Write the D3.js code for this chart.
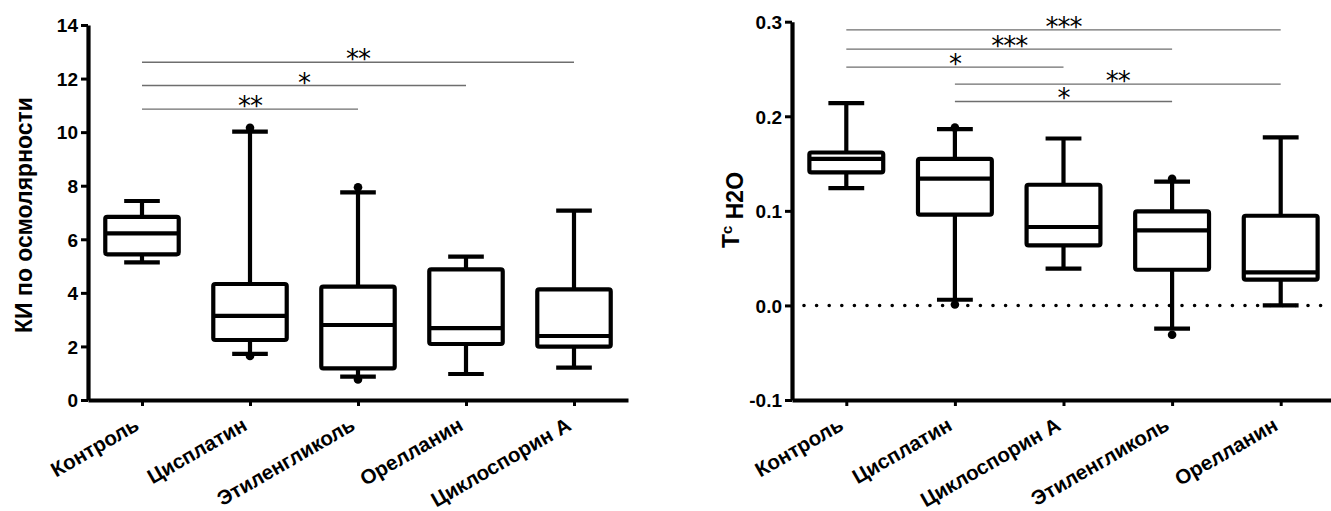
<!DOCTYPE html>
<html>
<head>
<meta charset="utf-8">
<script src="https://cdn.jsdelivr.net/npm/d3@7"></script>
<style>
  body { margin: 0; background: #fff; }
  svg { display: block; }
  text { font-family: "Liberation Sans", Arial, sans-serif; fill: #000; }
</style>
</head>
<body>
<svg id="chart" width="1331" height="511"></svg>
<script>
// ---- left panel: КИ по осмолярности
var leftCats = ["Контроль", "Цисплатин", "Этиленгликоль", "Орелланин", "Циклоспорин А"];
var leftMin = [5.14, 1.72, 0.87, 0.97, 1.21];
var leftQ1 = [5.44, 2.24, 1.18, 2.09, 1.99];
var leftMed = [6.22, 3.14, 2.80, 2.68, 2.39];
var leftQ3 = [6.84, 4.33, 4.23, 4.88, 4.13];
var leftMax = [7.43, 10.02, 7.75, 5.35, 7.07];
var leftDotCat = [1, 1, 2, 2];
var leftDotVal = [10.16, 1.64, 7.94, 0.77];
var leftTicks = [0, 2, 4, 6, 8, 10, 12, 14];
var leftSigFrom = [0, 0, 0];
var leftSigTo = [4, 3, 2];
var leftSigY = [12.61, 11.74, 10.86];
var leftSigLabel = ["**", "*", "**"];

// ---- right panel: Tc H2O
var rightCats = ["Контроль", "Цисплатин", "Циклоспорин А", "Этиленгликоль", "Орелланин"];
var rightMin = [0.124, 0.006, 0.039, -0.0246, 0.0];
var rightQ1 = [0.1406, 0.096, 0.0634, 0.0377, 0.0272];
var rightMed = [0.155, 0.134, 0.0829, 0.0793, 0.0349];
var rightQ3 = [0.1617, 0.155, 0.1276, 0.0994, 0.0948];
var rightMax = [0.214, 0.1865, 0.1765, 0.131, 0.1776];
var rightDotCat = [1, 1, 3, 3];
var rightDotVal = [0.188, 0.001, 0.134, -0.031];
var rightTicks = [-0.1, 0.0, 0.1, 0.2, 0.3];
var rightSigFrom = [0, 0, 0, 1, 1];
var rightSigTo = [4, 3, 2, 4, 3];
var rightSigY = [0.2914, 0.271, 0.252, 0.234, 0.2157];
var rightSigLabel = ["***", "***", "*", "**", "*"];

var svg = d3.select("#chart");

function panel(opt) {
    var g = svg.append("g");

    var x = d3.scalePoint()
        .domain(opt.cats)
        .range([opt.x0, opt.x0 + opt.width])
        .padding(0.5);
    var y = d3.scaleLinear()
        .domain(opt.domain)
        .range([400, opt.yTop]);

    var step = x.step();
    var boxW = step * 0.68,
        capW = step * 0.33;

    // dotted reference line at 0
    if (opt.zeroLine) {
        g.append("line")
            .attr("x1", opt.x0 + 12)
            .attr("x2", opt.x0 + opt.width)
            .attr("y1", y(0))
            .attr("y2", y(0))
            .style("stroke", "#000")
            .style("stroke-width", 3.6)
            .style("stroke-linecap", "round")
            .style("stroke-dasharray", "0 12.6");
    }

    // significance brackets
    opt.sigY.forEach(function (v, i) {
        var xa = x(opt.cats[opt.sigFrom[i]]),
            xb = x(opt.cats[opt.sigTo[i]]);
        g.append("line")
            .attr("x1", xa).attr("x2", xb)
            .attr("y1", y(v)).attr("y2", y(v))
            .style("stroke", "#6e6e6e")
            .style("stroke-width", 1.4);
        g.append("text")
            .attr("x", (xa + xb) / 2)
            .attr("y", y(v) + 6)
            .attr("text-anchor", "middle")
            .style("font-family", "DejaVu Sans")
            .style("font-size", "26px")
            .style("letter-spacing", "-1px")
            .text(opt.sigLabel[i]);
    });

    // whiskers
    var idx = d3.range(opt.cats.length);
    g.selectAll(".whisker")
        .data(idx)
        .join("line")
        .attr("class", "whisker")
        .attr("x1", function (i) { return x(opt.cats[i]); })
        .attr("x2", function (i) { return x(opt.cats[i]); })
        .attr("y1", function (i) { return y(opt.min[i]); })
        .attr("y2", function (i) { return y(opt.max[i]); })
        .style("stroke", "#000")
        .style("stroke-width", 4.2);

    [opt.min, opt.max].forEach(function (arr) {
        g.selectAll(null)
            .data(idx)
            .join("line")
            .attr("x1", function (i) { return x(opt.cats[i]) - capW / 2; })
            .attr("x2", function (i) { return x(opt.cats[i]) + capW / 2; })
            .attr("y1", function (i) { return y(arr[i]); })
            .attr("y2", function (i) { return y(arr[i]); })
            .style("stroke", "#000")
            .style("stroke-width", 4.2);
    });

    // boxes
    g.selectAll(".box")
        .data(idx)
        .join("rect")
        .attr("class", "box")
        .attr("x", function (i) { return x(opt.cats[i]) - boxW / 2; })
        .attr("y", function (i) { return y(opt.q3[i]); })
        .attr("width", boxW)
        .attr("height", function (i) { return y(opt.q1[i]) - y(opt.q3[i]); })
        .attr("rx", 2)
        .style("fill", "#fff")
        .style("stroke", "#000")
        .style("stroke-width", 4.2);

    g.selectAll(".median")
        .data(idx)
        .join("line")
        .attr("class", "median")
        .attr("x1", function (i) { return x(opt.cats[i]) - boxW / 2; })
        .attr("x2", function (i) { return x(opt.cats[i]) + boxW / 2; })
        .attr("y1", function (i) { return y(opt.med[i]); })
        .attr("y2", function (i) { return y(opt.med[i]); })
        .style("stroke", "#000")
        .style("stroke-width", 4.2);

    // extreme points
    g.selectAll(".dot")
        .data(opt.dotVal)
        .join("circle")
        .attr("class", "dot")
        .attr("cx", function (d, i) { return x(opt.cats[opt.dotCat[i]]); })
        .attr("cy", function (d) { return y(d); })
        .attr("r", 4.3)
        .style("fill", "#000");

    // y axis
    var yAxis = g.append("g")
        .attr("transform", "translate(" + opt.x0 + ",0)")
        .call(d3.axisLeft(y)
            .tickValues(opt.ticks)
            .tickSize(7)
            .tickSizeOuter(0)
            .tickPadding(3)
            .tickFormat(opt.fmt));
    yAxis.select(".domain").style("stroke-width", 4.2);
    yAxis.selectAll(".tick line").style("stroke-width", 3);
    yAxis.selectAll("text")
        .style("font-size", "19px")
        .style("font-weight", "bold")
        .attr("dy", "0.36em");

    // x axis
    var xAxis = g.append("g")
        .attr("transform", "translate(0,400)")
        .call(d3.axisBottom(x).tickSize(6).tickSizeOuter(0));
    xAxis.select(".domain").style("stroke-width", 4.2);
    xAxis.selectAll(".tick line").style("stroke-width", 3);
    xAxis.selectAll("text")
        .attr("text-anchor", "end")
        .attr("x", 0)
        .attr("y", 0)
        .attr("dy", 0)
        .attr("transform", "translate(-2,29) rotate(-30)")
        .style("font-size", "20.5px")
        .style("font-weight", "bold");

    // y title
    var title = g.append("text")
        .attr("transform", "translate(" + opt.titleX + "," + opt.titleY + ") rotate(-90)")
        .attr("text-anchor", "middle")
        .style("font-size", "23px")
        .style("font-weight", "bold");
    opt.title(title);
}

panel({
    cats: leftCats, min: leftMin, q1: leftQ1, med: leftMed, q3: leftQ3, max: leftMax,
    dotCat: leftDotCat, dotVal: leftDotVal, ticks: leftTicks,
    sigFrom: leftSigFrom, sigTo: leftSigTo, sigY: leftSigY, sigLabel: leftSigLabel,
    x0: 88, width: 540, yTop: 25, domain: [0, 14],
    fmt: function (d) { return d; },
    titleX: 32, titleY: 215,
    title: function (t) { t.text("КИ по осмолярности"); }
});

panel({
    cats: rightCats, min: rightMin, q1: rightQ1, med: rightMed, q3: rightQ3, max: rightMax,
    dotCat: rightDotCat, dotVal: rightDotVal, ticks: rightTicks,
    sigFrom: rightSigFrom, sigTo: rightSigTo, sigY: rightSigY, sigLabel: rightSigLabel,
    x0: 792, width: 543, yTop: 21.7, domain: [-0.1, 0.3], zeroLine: true,
    fmt: function (d) { return d.toFixed(1); },
    titleX: 739, titleY: 210,
    title: function (t) {
        t.append("tspan").text("T");
        t.append("tspan").attr("dy", "-0.45em").style("font-size", "15px").text("c");
        t.append("tspan").attr("dy", "0.45em").text(" H2O");
    }
});
</script>
</body>
</html>
